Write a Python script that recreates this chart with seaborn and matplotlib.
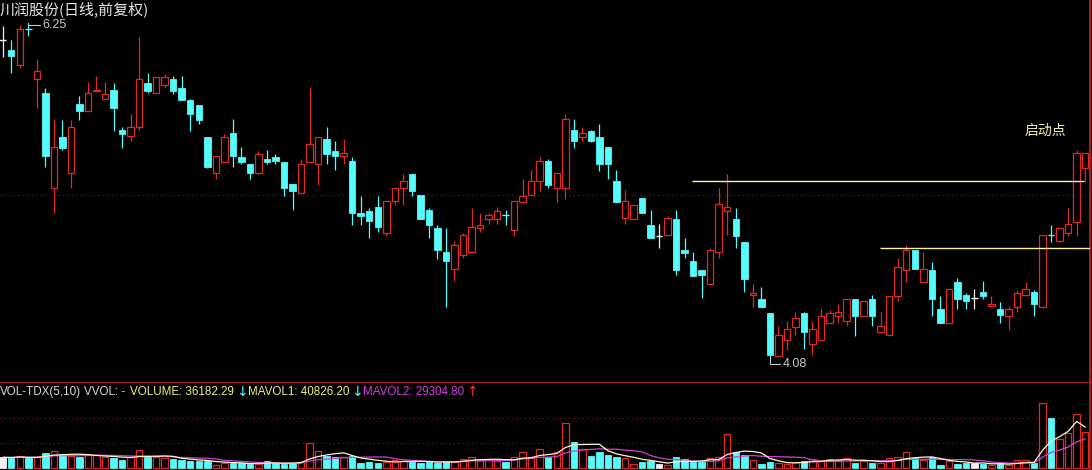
import matplotlib
matplotlib.use("Agg")
import numpy as np
import pandas as pd
import seaborn as sns
from matplotlib import pyplot as plt

# daily bars (front-adjusted price), one entry per candle
opens = [6.14, 6.08, 5.98, 6.21, 5.89, 5.80, 5.18, 5.51, 5.28, 5.73,
         5.68, 5.81, 5.76, 5.82, 5.56, 5.52, 5.58, 5.86, 5.80, 5.85,
         5.89, 5.83, 5.75, 5.72, 5.51, 5.28, 5.35, 5.54, 5.38, 5.34,
         5.28, 5.37, 5.38, 5.35, 5.21, 5.15, 5.35, 5.34, 5.50, 5.42,
         5.39, 5.36, 5.02, 5.03, 5.06, 4.89, 5.10, 5.18, 5.27, 5.14,
         5.04, 4.92, 4.77, 4.66, 4.75, 4.77, 4.92, 4.98, 4.98, 5.01,
         4.91, 5.09, 5.14, 5.23, 5.36, 5.18, 5.18, 5.56, 5.51, 5.55,
         5.51, 5.45, 5.23, 4.99, 4.98, 5.12, 4.94, 4.87, 4.88, 4.98,
         4.78, 4.71, 4.65, 4.56, 4.77, 5.03, 4.98, 4.83, 4.49, 4.46,
         4.37, 4.09, 4.20, 4.28, 4.37, 4.17, 4.20, 4.31, 4.35, 4.32,
         4.46, 4.35, 4.46, 4.25, 4.23, 4.48, 4.65, 4.78, 4.57, 4.65,
         4.40, 4.31, 4.57, 4.49, 4.47, 4.51, 4.42, 4.40, 4.35, 4.41,
         4.49, 4.51, 4.41, 4.88, 4.84, 4.89, 4.96, 5.31]
highs = [6.23, 6.14, 6.24, 6.25, 6.02, 5.83, 5.63, 5.62, 5.62, 5.78,
         5.87, 5.91, 5.87, 5.86, 5.58, 5.66, 6.16, 5.93, 5.90, 5.92,
         5.91, 5.91, 5.76, 5.72, 5.51, 5.39, 5.53, 5.63, 5.45, 5.34,
         5.42, 5.43, 5.40, 5.35, 5.21, 5.37, 5.84, 5.51, 5.58, 5.49,
         5.50, 5.38, 5.13, 5.05, 5.13, 5.10, 5.18, 5.27, 5.27, 5.14,
         5.05, 4.94, 4.92, 4.84, 4.89, 5.05, 5.02, 5.02, 5.06, 5.04,
         5.10, 5.24, 5.30, 5.38, 5.37, 5.28, 5.66, 5.63, 5.58, 5.56,
         5.60, 5.45, 5.30, 5.17, 5.07, 5.12, 5.04, 4.95, 5.00, 5.04,
         4.86, 4.77, 4.65, 4.79, 5.18, 5.27, 5.05, 4.83, 4.56, 4.54,
         4.37, 4.29, 4.32, 4.38, 4.38, 4.32, 4.40, 4.39, 4.43, 4.46,
         4.46, 4.45, 4.49, 4.38, 4.48, 4.73, 4.81, 4.78, 4.77, 4.70,
         4.48, 4.53, 4.60, 4.50, 4.53, 4.58, 4.48, 4.44, 4.42, 4.52,
         4.57, 4.52, 4.88, 4.94, 4.92, 5.05, 5.43, 5.41]
lows = [6.03, 5.93, 5.96, 6.17, 5.70, 5.32, 5.02, 5.43, 5.18, 5.62,
        5.68, 5.81, 5.76, 5.55, 5.44, 5.49, 5.56, 5.80, 5.80, 5.83,
        5.79, 5.75, 5.55, 5.60, 5.31, 5.24, 5.35, 5.32, 5.34, 5.24,
        5.27, 5.34, 5.34, 5.13, 5.04, 5.15, 5.35, 5.20, 5.34, 5.30,
        5.34, 4.94, 4.94, 4.86, 4.90, 4.87, 5.07, 5.07, 5.13, 4.98,
        4.86, 4.72, 4.41, 4.58, 4.73, 4.77, 4.90, 4.95, 4.95, 4.94,
        4.87, 5.09, 5.14, 5.16, 5.18, 5.09, 5.11, 5.44, 5.49, 5.48,
        5.29, 5.24, 5.09, 4.95, 4.98, 5.02, 4.86, 4.79, 4.88, 4.62,
        4.73, 4.61, 4.47, 4.56, 4.73, 4.88, 4.79, 4.51, 4.41, 4.41,
        4.08, 4.09, 4.13, 4.23, 4.14, 4.10, 4.20, 4.31, 4.31, 4.29,
        4.22, 4.35, 4.29, 4.25, 4.23, 4.45, 4.57, 4.66, 4.57, 4.35,
        4.31, 4.31, 4.40, 4.40, 4.40, 4.46, 4.42, 4.31, 4.26, 4.38,
        4.48, 4.35, 4.41, 4.83, 4.83, 4.87, 4.87, 5.22]
closes = [6.14, 6.04, 6.21, 6.21, 5.94, 5.39, 5.45, 5.44, 5.58, 5.68,
          5.80, 5.82, 5.79, 5.70, 5.53, 5.58, 5.89, 5.81, 5.90, 5.90,
          5.81, 5.75, 5.66, 5.62, 5.32, 5.39, 5.51, 5.39, 5.35, 5.28,
          5.40, 5.35, 5.36, 5.18, 5.16, 5.34, 5.47, 5.51, 5.40, 5.39,
          5.41, 5.02, 5.00, 4.97, 4.93, 5.10, 5.18, 5.23, 5.16, 4.98,
          4.94, 4.78, 4.71, 4.81, 4.88, 4.93, 4.94, 5.01, 5.03, 5.01,
          5.10, 5.13, 5.23, 5.36, 5.20, 5.28, 5.63, 5.49, 5.54, 5.49,
          5.34, 5.34, 5.09, 5.10, 5.07, 5.02, 4.86, 4.87, 4.99, 4.65,
          4.76, 4.61, 4.62, 4.78, 5.08, 5.06, 4.87, 4.59, 4.50, 4.41,
          4.10, 4.23, 4.27, 4.34, 4.25, 4.27, 4.35, 4.37, 4.38, 4.46,
          4.35, 4.45, 4.35, 4.29, 4.48, 4.67, 4.78, 4.66, 4.66, 4.46,
          4.31, 4.53, 4.46, 4.45, 4.47, 4.48, 4.43, 4.36, 4.40, 4.50,
          4.53, 4.43, 4.88, 4.88, 4.92, 4.95, 5.41, 5.41]
volumes = [10700, 10300, 12000, 9700, 10700, 14700, 17300, 13700, 12000, 11300,
           12700, 13300, 10700, 9700, 8000, 10700, 18000, 11300, 10700, 9700,
           8700, 8000, 7300, 6700, 7300, 3000, 5300, 4700, 5300, 3700,
           4000, 7300, 4700, 4000, 4700, 6300, 25300, 17000, 12000, 10700,
           10700, 12000, 4700, 6300, 4700, 6300, 8000, 7300, 6300, 5300,
           5700, 5300, 7300, 6300, 8700, 11300, 8000, 8700, 7300, 6300,
           10700, 16300, 10700, 18700, 10700, 16300, 45300, 26300, 18700, 12000,
           16300, 13000, 10700, 9700, 4000, 6300, 7300, 4000, 3000, 10700,
           8700, 6300, 6300, 9700, 11300, 34000, 16300, 13000, 8000, 4000,
           6300, 4700, 4000, 6300, 7300, 8700, 7300, 8700, 8000, 9700,
           5300, 7300, 5300, 4700, 9700, 10700, 16300, 9700, 8000, 10700,
           3000, 7300, 4000, 5300, 4700, 4000, 3000, 4700, 3000, 8000,
           8000, 4700, 65000, 50000, 29000, 35000, 54000, 36182]
white_doji = [0, 77, 114]

# the two hand-drawn horizontal lines: level, first and last candle
line_levels = [5.23, 4.79]
line_start = [80.9, 102.9]
line_end = [126.9, 127.6]

RED = "#e02a26"
CYAN = "#54fcfc"
WHITE = "#f0f0f0"
FRAME = "#d42020"
GRID = "#8c1c1c"
LABEL = "#c8c8c8"

df = pd.DataFrame({"open": opens, "high": highs, "low": lows,
                   "close": closes, "volume": volumes})
df["i"] = np.arange(len(df))
df["ma5"] = df["volume"].rolling(5, min_periods=1).mean()
df["ma10"] = df["volume"].rolling(10, min_periods=1).mean()

colors = []
for i, r in df.iterrows():
    if r.close > r.open:
        colors.append(RED)
    elif r.close < r.open:
        colors.append(CYAN)
    elif i in white_doji:
        colors.append(WHITE)
    else:
        colors.append(CYAN)
df["color"] = colors

sns.set_style("dark", {"axes.facecolor": "black", "figure.facecolor": "black"})
plt.rcParams["font.family"] = ["Noto Sans CJK SC", "DejaVu Sans"]

fig = plt.figure(figsize=(10.92, 4.70), dpi=100)
fig.patch.set_facecolor("black")
ax = fig.add_axes([0, 87 / 470, 1090 / 1092, 383 / 470])
vax = fig.add_axes([0, 0, 1090 / 1092, 87 / 470])

W = 0.76
up = df[df.close > df.open]
down = df[df.close < df.open]
flat = df[df.close == df.open]

# wicks (kept outside the hollow bodies)
body_top = df[["open", "close"]].max(axis=1)
body_bot = df[["open", "close"]].min(axis=1)
ax.vlines(df.i, body_top, df.high, colors=df.color, lw=0.9, zorder=2)
ax.vlines(df.i, df.low, body_bot, colors=df.color, lw=0.9, zorder=2)

ax.bar(up.i, up.close - up.open, bottom=up.open, width=W,
       facecolor="black", edgecolor=RED, lw=0.9, zorder=3)
ax.bar(down.i, down.open - down.close, bottom=down.close, width=W,
       color=CYAN, edgecolor=CYAN, lw=0.6, zorder=3)
ax.hlines(flat.close, flat.i - W / 2, flat.i + W / 2, colors=flat.color,
          lw=1.0, zorder=3)

ax.axhline(5.137, color=GRID, ls=(0, (1, 3)), lw=0.8, zorder=1)
for lv, a, b in zip(line_levels, line_start, line_end):
    ax.hlines(lv, a, b, colors="#fff3a8", lw=1.0, zorder=4)

num_font = ["Liberation Sans", "DejaVu Sans"]
ax.annotate("6.25", xy=(3, 6.25), xytext=(10.5, -1.5), textcoords="offset points",
            color=LABEL, fontsize=9, family=num_font, ha="left", va="center",
            arrowprops=dict(arrowstyle="-", color=LABEL, lw=0.8, shrinkA=0, shrinkB=0,
                            connectionstyle="angle,angleA=0,angleB=90,rad=0"))
ax.annotate("4.08", xy=(90, 4.08), xytext=(9.5, -4.5), textcoords="offset points",
            color=LABEL, fontsize=9, family=num_font, ha="left", va="center",
            arrowprops=dict(arrowstyle="-", color=LABEL, lw=0.8, shrinkA=0, shrinkB=0,
                            connectionstyle="angle,angleA=0,angleB=90,rad=0"))
ax.text(122.3, 5.552, "启动点", color="#f2eeb0", fontsize=10, ha="center", va="center")

# volume panel
vup = df[df.close > df.open]
vdn = df[df.close <= df.open]
vax.bar(vup.i, vup.volume, width=W, facecolor="black", edgecolor=RED, lw=0.9, zorder=2)
vax.bar(vdn.i, vdn.volume, width=W, color=vdn.color, edgecolor=vdn.color, lw=0.6, zorder=2)
sns.lineplot(data=df, x="i", y="ma5", ax=vax, color="#fff8c8", lw=0.9, zorder=4)
sns.lineplot(data=df, x="i", y="ma10", ax=vax, color="#d040d8", lw=0.9, zorder=3)
for lv in [25000, 50000]:
    vax.axhline(lv, color=GRID, ls=(0, (1, 3)), lw=0.8, zorder=1)

xl = (-2.7 / 8.524, (1090 - 2.7) / 8.524)
ax.set_xlim(xl)
ax.set_ylim(3.918, 6.401)
vax.set_xlim(xl)
vax.set_ylim(-2000, 85000)

for a in (ax, vax):
    a.grid(False)
    a.set_xticks([])
    a.set_yticks([])
    a.set_xlabel("")
    a.set_ylabel("")
    a.set_facecolor("black")
    for s in ("top", "left", "bottom"):
        a.spines[s].set_visible(False)
    a.spines["right"].set_visible(True)
    a.spines["right"].set_color(FRAME)
    a.spines["right"].set_linewidth(1.2)
ax.spines["bottom"].set_visible(True)
ax.spines["bottom"].set_color(FRAME)
ax.spines["bottom"].set_linewidth(1.2)

fig.text(0.0, 1 - 9 / 470, "川润股份(日线,前复权)", color="#e6e6e6", fontsize=10.8,
         ha="left", va="center")

hy = 1 - 392 / 470
header = [(0, "VOL-TDX(5,10)", "#d8d8d8"), (84, "VVOL: -", "#d8d8d8"),
          (130, "VOLUME: 36182.29", "#eeee80"), (248, "MAVOL1: 40826.20", "#eeee80"),
          (363, "MAVOL2: 29304.80", "#d040d8")]
for px, s, c in header:
    fig.text(px / 1092, hy, s, color=c, fontsize=8.4, family=num_font,
             ha="left", va="center")
arrows = [(236, "↓", CYAN), (351, "↓", CYAN), (466, "↑", "#ff3030")]
for px, s, c in arrows:
    fig.text(px / 1092, hy, s, color=c, fontsize=10, family=["DejaVu Sans"],
             ha="left", va="center")

fig.savefig("out.png", dpi=100, facecolor="black")
